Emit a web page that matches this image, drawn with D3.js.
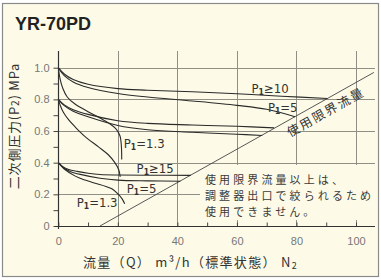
<!DOCTYPE html>
<html>
<head>
<meta charset="utf-8">
<script src="https://cdn.jsdelivr.net/npm/d3@7"></script>
<style>
  html, body { margin: 0; padding: 0; background: #fff; }
  svg { display: block; }
</style>
</head>
<body>
<div id="container"></div>
<script>
// axis ticks
const xTicks = [0, 20, 40, 60, 80, 100];
const xMinorTicks = [10, 30, 50, 70, 90];
const yTicks = [0, 0.2, 0.4, 0.6, 0.8, 1.0];
const yMinorTicks = [0.1, 0.3, 0.5, 0.7, 0.9];

// flow limit line (Q, P2)
const limitLine = [[14, 0], [106, 0.97]];

// set pressure 1.0 MPa
const hiP10 = [[0, 1.0], [2, 0.96], [5, 0.925], [10, 0.895], [20, 0.868], [30, 0.858], [45, 0.848], [60, 0.835], [75, 0.82], [90.4, 0.805]];
const hiP5 = [[0, 1.0], [2, 0.95], [5, 0.91], [10, 0.875], [20, 0.837], [30, 0.815], [45, 0.79], [60, 0.762], [70, 0.737], [79.5, 0.69]];
const hiP13 = [[0, 1.0], [0.6, 0.93], [1.5, 0.87], [3, 0.815], [5.5, 0.772], [10, 0.722], [14, 0.682], [17, 0.65], [19.3, 0.615], [20.7, 0.57], [21.2, 0.5], [21.3, 0.42]];

// set pressure 0.8 MPa
const midP10 = [[0, 0.8], [2, 0.765], [5, 0.735], [10, 0.705], [20, 0.665], [30, 0.648], [45, 0.638], [60, 0.63], [72.5, 0.62]];
const midP5 = [[0, 0.8], [2, 0.76], [5, 0.725], [10, 0.69], [20, 0.635], [30, 0.608], [45, 0.592], [60, 0.58], [68.5, 0.572]];
const midP13 = [[0, 0.8], [0.7, 0.76], [1.8, 0.715], [3.5, 0.67], [5.7, 0.625], [9, 0.565], [13.5, 0.5], [16.8, 0.45], [19, 0.4], [20.3, 0.355], [20.8, 0.31]];

// set pressure 0.4 MPa
const loP15 = [[0, 0.4], [1.5, 0.375], [3.5, 0.357], [6.3, 0.345], [10, 0.333], [14, 0.325], [20, 0.322], [30, 0.321], [44.5, 0.32]];
const loP5 = [[0, 0.4], [2, 0.365], [4, 0.345], [7.4, 0.326], [14, 0.302], [20, 0.29], [30, 0.285], [41, 0.283]];
const loP13 = [[0, 0.4], [2, 0.36], [5.7, 0.315], [9, 0.29], [12.4, 0.27], [16, 0.25], [18, 0.235], [20.2, 0.2], [21.5, 0.17], [22.3, 0.14]];

const curves = [hiP10, hiP5, hiP13, midP10, midP5, midP13, loP15, loP5, loP13];

// curve labels: text after the "P1" part, and anchor point (Q, P2)
const labelRest = ['≥10', '=5', '=1.3', '≥15', '=5', '=1.3'];
const labelQ = [64.9, 70.4, 22.0, 26.3, 23.0, 6.2];
const labelP = [0.839, 0.719, 0.492, 0.334, 0.208, 0.117];

const noteLines = ['使用限界流量以上は、', '調整器出口で絞られるため', '使用できません。'];

const width = 381;
const height = 280;
const bg = '#fdfbe8';
const gridColor = '#8f8f86';
const inkColor = '#2a2a2a';

const svg = d3.select('#container')
  .append('svg')
  .attr('width', width)
  .attr('height', height);

svg.append('rect')
  .attr('x', 2.5).attr('y', 3.5)
  .attr('width', 376).attr('height', 273)
  .attr('fill', bg)
  .attr('stroke', '#8a8a8a')
  .attr('stroke-width', 1.2);

const x = d3.scaleLinear().domain([0, 100]).range([58.3, 356]);
const y = d3.scaleLinear().domain([0, 1]).range([226, 67.7]);

const xEnd = x.invert(375);
const yTop = y.invert(51);

// grid
const grid = svg.append('g');
grid.selectAll('.hgrid')
  .data(yTicks.filter(d => d > 0))
  .join('line')
  .attr('x1', x(0)).attr('x2', x(xEnd))
  .attr('y1', d => Math.round(y(d)) + 0.5).attr('y2', d => Math.round(y(d)) + 0.5)
  .attr('stroke', gridColor)
  .attr('stroke-width', 1);
grid.selectAll('.vgrid')
  .data(xTicks.filter(d => d > 0))
  .join('line')
  .attr('x1', d => Math.round(x(d)) + 0.5).attr('x2', d => Math.round(x(d)) + 0.5)
  .attr('y1', y(yTop)).attr('y2', y(0))
  .attr('stroke', gridColor)
  .attr('stroke-width', 1);

// note box hides the grid behind the text
svg.append('rect')
  .attr('x', 200).attr('y', 165)
  .attr('width', 177).attr('height', 55)
  .attr('fill', bg);

const line = d3.line()
  .x(d => x(d[0]))
  .y(d => y(d[1]))
  .curve(d3.curveCatmullRom.alpha(0.5));

svg.append('path')
  .datum(limitLine)
  .attr('d', d3.line().x(d => x(d[0])).y(d => y(d[1])))
  .attr('fill', 'none')
  .attr('stroke', '#444')
  .attr('stroke-width', 0.9);

svg.selectAll('.curve')
  .data(curves)
  .join('path')
  .attr('d', line)
  .attr('fill', 'none')
  .attr('stroke', inkColor)
  .attr('stroke-width', 1.1);

// curve labels
const labels = svg.selectAll('.clabel')
  .data(labelRest)
  .join('text')
  .attr('x', (d, i) => x(labelQ[i]))
  .attr('y', (d, i) => y(labelP[i]))
  .attr('font-family', '"Liberation Sans Narrow", "DejaVu Sans Condensed", sans-serif')
  .attr('font-size', 13)
  .attr('fill', '#333');
labels.append('tspan').text('P');
labels.append('tspan').attr('font-size', 8.5).attr('font-weight', 'bold').attr('dy', 2).text('1');
labels.append('tspan').attr('dy', -2).text(d => d);

// limit line label
const a = Math.atan2(y(limitLine[1][1]) - y(limitLine[0][1]), x(limitLine[1][0]) - x(limitLine[0][0]));
const slope = (limitLine[1][1] - limitLine[0][1]) / (limitLine[1][0] - limitLine[0][0]);
const lq = 88;
const lx = x(lq) - Math.sin(a) * 10;
const ly = y((lq - limitLine[0][0]) * slope) + Math.cos(a) * 10;
svg.append('text')
  .attr('transform', `translate(${lx},${ly}) rotate(${a * 180 / Math.PI})`)
  .attr('text-anchor', 'middle')
  .attr('dominant-baseline', 'central')
  .attr('font-family', '"Noto Sans CJK JP", sans-serif')
  .attr('font-size', 12.5)
  .attr('letter-spacing', 2)
  .attr('fill', '#333')
  .text('使用限界流量');

// note
svg.selectAll('.note')
  .data(noteLines)
  .join('text')
  .attr('x', 205)
  .attr('y', (d, i) => 184 + i * 16)
  .attr('font-family', '"Noto Sans CJK JP", sans-serif')
  .attr('font-size', 11)
  .attr('letter-spacing', 3.1)
  .attr('fill', '#3a3a3a')
  .text(d => d);

// axes
const yAxis = d3.axisLeft(y)
  .tickValues(yTicks.concat(yMinorTicks))
  .tickFormat(d => yTicks.includes(d) ? (d === 0 ? '0' : d3.format('.1f')(d)) : '')
  .tickSizeInner(5)
  .tickSizeOuter(0)
  .tickPadding(4);
const gy = svg.append('g')
  .attr('transform', `translate(${Math.round(x(0)) + 0.5},0)`)
  .call(yAxis);
gy.select('.domain').remove();
gy.selectAll('line').attr('stroke', '#444');
gy.selectAll('text')
  .attr('font-family', '"Liberation Sans", Arial, sans-serif')
  .attr('font-size', 11)
  .attr('fill', '#777');

const xAxis = d3.axisBottom(x)
  .tickValues(xTicks.concat(xMinorTicks))
  .tickFormat(d => xTicks.includes(d) ? d : '')
  .tickSizeInner(-4)
  .tickSizeOuter(0)
  .tickPadding(10.5);
const gx = svg.append('g')
  .attr('transform', `translate(0,${Math.round(y(0)) + 0.5})`)
  .call(xAxis);
gx.select('.domain').remove();
gx.selectAll('line').attr('stroke', '#444');
gx.selectAll('text')
  .attr('font-family', '"Liberation Sans", Arial, sans-serif')
  .attr('font-size', 11)
  .attr('fill', '#777');

svg.append('line')
  .attr('x1', Math.round(x(0)) + 0.5).attr('x2', Math.round(x(0)) + 0.5)
  .attr('y1', y(yTop)).attr('y2', y(0) + 3)
  .attr('stroke', '#333').attr('stroke-width', 1.2);
svg.append('line')
  .attr('x1', x(0) - 3).attr('x2', x(xEnd))
  .attr('y1', Math.round(y(0)) + 0.5).attr('y2', Math.round(y(0)) + 0.5)
  .attr('stroke', '#333').attr('stroke-width', 1.2);

// titles
svg.append('text')
  .attr('x', 15).attr('y', 30)
  .attr('font-family', '"Liberation Sans", Arial, sans-serif')
  .attr('font-weight', 'bold')
  .attr('font-size', 18)
  .attr('fill', '#222')
  .text('YR-70PD');

const yTitle = svg.append('text')
  .attr('transform', 'translate(19,126) rotate(-90)')
  .attr('text-anchor', 'middle')
  .attr('font-family', '"Noto Sans CJK JP", sans-serif')
  .attr('font-size', 13)
  .attr('letter-spacing', 0.8)
  .attr('fill', '#333');
yTitle.append('tspan').text('二次側圧力(P');
yTitle.append('tspan').attr('font-size', 10).text('2');
yTitle.append('tspan').text(') MPa');

const xTitle = svg.append('text')
  .attr('x', 83).attr('y', 267)
  .attr('font-family', '"Noto Sans CJK JP", sans-serif')
  .attr('font-size', 13)
  .attr('letter-spacing', 1.3)
  .attr('fill', '#333');
xTitle.append('tspan').text('流量（Q） m³/h（標準状態） N');
xTitle.append('tspan').attr('font-size', 9).attr('dy', 2).text('2');
</script>
</body>
</html>
